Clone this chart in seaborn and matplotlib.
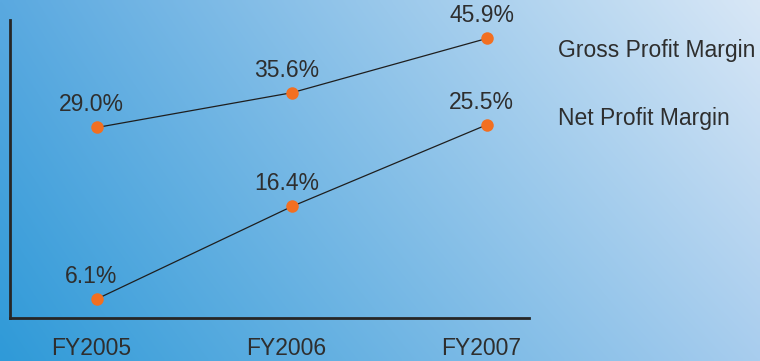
import numpy as np
import pandas as pd
import matplotlib
matplotlib.use("Agg")
import matplotlib.pyplot as plt
import matplotlib.transforms as mtransforms
from matplotlib.colors import to_rgb
import seaborn as sns

years = ["FY2005", "FY2006", "FY2007"]
gross_margin = [29.0, 35.6, 45.9]
net_margin = [6.1, 16.4, 25.5]
series_names = ["Gross Profit Margin", "Net Profit Margin"]

sns.set_theme(style="white")
plt.rcParams["font.family"] = ["Liberation Sans", "DejaVu Sans"]

TEXT = "#2e2e2e"
DOT = "#f26f21"
LINE = "#1e1e1e"
FS = 16.5

W, H = 760, 361
fig = plt.figure(figsize=(W / 100, H / 100), dpi=100)

# diagonal blue gradient behind everything
bg = fig.add_axes([0, 0, 1, 1], zorder=-10)
tl, tr = np.array(to_rgb("#5aa9e0")), np.array(to_rgb("#d8e7f6"))
bl, br = np.array(to_rgb("#2f9ad8")), np.array(to_rgb("#a8cdee"))
u = np.linspace(0, 1, 200)[None, :, None]
v = np.linspace(0, 1, 100)[:, None, None]
grad = (1 - v) * ((1 - u) * tl + u * tr) + v * ((1 - u) * bl + u * br)
bg.imshow(grad, aspect="auto", extent=[0, 1, 0, 1], interpolation="bilinear")
bg.set_axis_off()

left, right, top, bottom = 10, 529, 20, 318
ax = fig.add_axes([left / W, (H - bottom) / H, (right - left) / W, (bottom - top) / H])
ax.patch.set_alpha(0)
ax2 = ax.twinx()
ax2.patch.set_alpha(0)

df = pd.DataFrame({"year": years, "gross": gross_margin, "net": net_margin})
df["x"] = np.arange(len(years))

for axis, col in ((ax2, "gross"), (ax, "net")):
    sns.lineplot(data=df, x="x", y=col, ax=axis, color=LINE, linewidth=0.9,
                 marker="o", markersize=9, markerfacecolor=DOT,
                 markeredgecolor=DOT, markeredgewidth=0, zorder=3)
    axis.lines[-1].set_zorder(3)
    for xi, val in zip(df["x"], df[col]):
        axis.annotate(f"{val:.1f}%", (xi, val), xytext=(-4, 11.5),
                      textcoords="offset points", ha="center", va="baseline",
                      fontsize=FS, color=TEXT)

ax.set_xlim(-0.446, 2.215)
ax.set_ylim(3.97, 37.16)
ax2.set_ylim(-7.15, 49.39)

ax.set_xticks(df["x"])
ax.set_xticklabels(years)
ax.tick_params(axis="x", length=0, pad=13.5, labelsize=FS, labelcolor=TEXT)
shift = mtransforms.ScaledTranslation(-6 / 100, 0, fig.dpi_scale_trans)
for lab in ax.get_xticklabels():
    lab.set_transform(lab.get_transform() + shift)
ax.set_yticks([])
ax2.set_yticks([])
ax.set_xlabel("")
ax.set_ylabel("")
ax2.set_ylabel("")

for a in (ax, ax2):
    a.spines["top"].set_visible(False)
    a.spines["right"].set_visible(False)
    a.spines["left"].set_visible(False)
    a.spines["bottom"].set_visible(False)
for side in ("left", "bottom"):
    ax.spines[side].set_visible(True)
    ax.spines[side].set_color("#262626")
    ax.spines[side].set_linewidth(2.0)

# series labels to the right of the plot
fig.text(558 / W, (H - 57) / H, series_names[0], fontsize=FS, color=TEXT,
         ha="left", va="baseline")
fig.text(558 / W, (H - 125) / H, series_names[1], fontsize=FS, color=TEXT,
         ha="left", va="baseline")

fig.savefig("out.png", dpi=100)
